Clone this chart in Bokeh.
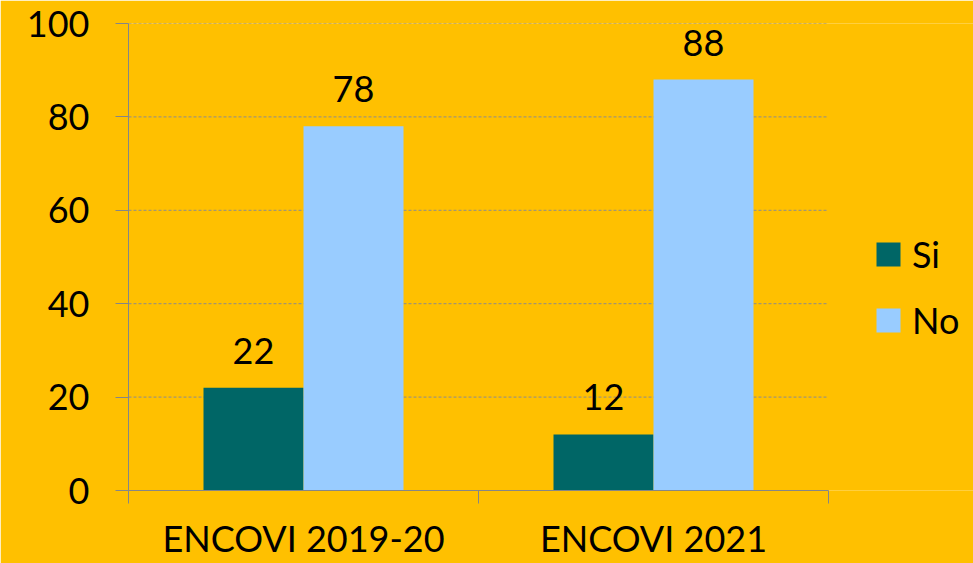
from bokeh.plotting import figure
from bokeh.models import Range1d, FixedTicker, Legend, LegendItem
from bokeh.core.properties import value
from bokeh.embed import file_html
from bokeh.resources import INLINE

# ---- data ----
categories = ["ENCOVI 2019-20", "ENCOVI 2021"]
series_names = ["Si", "No"]
si_values = [22, 12]
no_values = [78, 88]
y_ticks = [0, 20, 40, 60, 80, 100]

# ---- style ----
FONT = "Lato"
BG = "#FFC000"
SI_COLOR = "#006666"
NO_COLOR = "#99CCFF"
GRID_COLOR = "#8C8C8C"
AXIS_COLOR = "#868686"
BAR_W = 100 / 350

W, H = 973, 563
LEFT, TOP, BOTTOM = 128, 23, 73
PLOT_PX = 700            # pixel width of the category area
n = len(categories)
x_end = n * (W - LEFT) / PLOT_PX   # frame extends to the right edge for the legend

p = figure(width=W, height=H, output_backend="svg", toolbar_location=None,
           x_range=Range1d(0, x_end), y_range=Range1d(0, 100),
           min_border_left=LEFT, min_border_right=0,
           min_border_top=TOP, min_border_bottom=BOTTOM)
p.background_fill_color = BG
p.border_fill_color = BG
p.outline_line_color = None

# dashed horizontal gridlines across the category area only
p.xgrid.grid_line_color = None
p.ygrid.grid_line_color = None
p.segment(x0=[0] * len(y_ticks), x1=[n] * len(y_ticks), y0=y_ticks, y1=y_ticks,
          line_color=GRID_COLOR, line_dash="3 2", line_width=1)

centers = [i + 0.5 for i in range(n)]
x_si = [c - BAR_W / 2 for c in centers]
x_no = [c + BAR_W / 2 for c in centers]

r_si = p.vbar(x=x_si, top=si_values, width=BAR_W, bottom=0,
              fill_color=SI_COLOR, line_color=None)
r_no = p.vbar(x=x_no, top=no_values, width=BAR_W, bottom=0,
              fill_color=NO_COLOR, line_color=None)

# value labels
p.text(x=x_si, y=si_values, text=[str(v) for v in si_values],
       text_align="center", text_baseline="alphabetic", y_offset=-37,
       text_font=value(FONT), text_font_size="36px", text_color="black")
p.text(x=x_no, y=no_values, text=[str(v) for v in no_values],
       text_align="center", text_baseline="alphabetic", y_offset=-37,
       text_font=value(FONT), text_font_size="36px", text_color="black")

# x axis
xa = p.xaxis[0]
xa.bounds = (0, n)
xa.ticker = FixedTicker(ticks=centers, minor_ticks=list(range(n + 1)))
xa.major_label_overrides = {c: cat for c, cat in zip(centers, categories)}
xa.major_tick_line_color = None
xa.major_tick_in = 0
xa.major_tick_out = 0
xa.minor_tick_line_color = AXIS_COLOR
xa.minor_tick_in = 0
xa.minor_tick_out = 13
xa.axis_line_color = AXIS_COLOR
xa.major_label_text_font = FONT
xa.major_label_text_font_size = "36px"
xa.major_label_text_color = "black"
xa.major_label_standoff = 12

# y axis
ya = p.yaxis[0]
ya.ticker = FixedTicker(ticks=y_ticks)
ya.major_tick_in = 0
ya.major_tick_out = 13
ya.major_tick_line_color = AXIS_COLOR
ya.minor_tick_line_color = None
ya.axis_line_color = AXIS_COLOR
ya.major_label_text_font = FONT
ya.major_label_text_font_size = "36px"
ya.major_label_text_color = "black"
ya.major_label_standoff = 26

legend = Legend(items=[LegendItem(label=series_names[0], renderers=[r_si]),
                       LegendItem(label=series_names[1], renderers=[r_no])],
                location=(745, 148), orientation="vertical",
                glyph_width=30, glyph_height=30, label_height=30,
                spacing=22, padding=0, margin=0, label_standoff=9,
                border_line_color=None, background_fill_alpha=0,
                label_text_font=FONT, label_text_font_size="36px",
                label_text_color="black")
p.add_layout(legend)

open("out.html", "w").write(file_html(p, INLINE))
